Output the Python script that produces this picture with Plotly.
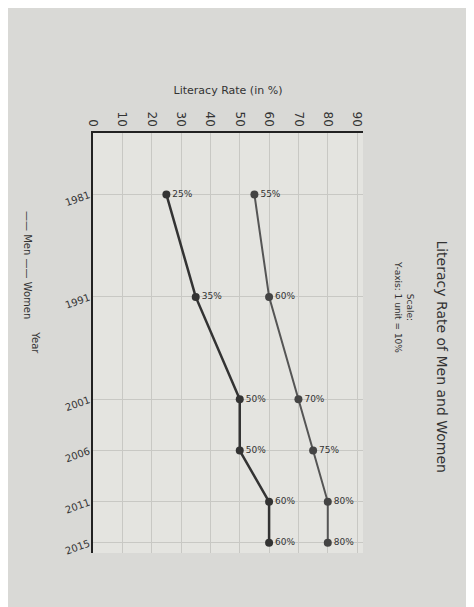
import plotly.graph_objects as go

years = [1981, 1991, 2001, 2006, 2011, 2015]
men = [55, 60, 70, 75, 80, 80]
women = [25, 35, 50, 50, 60, 60]
x_ticks = [0, 10, 20, 30, 40, 50, 60, 70, 80, 90]

fig = go.Figure()
fig.add_trace(go.Scatter(x=men, y=years, mode="lines+markers+text", name="Men",
    line=dict(color="#555", width=2), marker=dict(size=8, color="#444"),
    text=[f"{v}%" for v in men], textposition="middle right",
    textfont=dict(size=9, color="#333")))
fig.add_trace(go.Scatter(x=women, y=years, mode="lines+markers+text", name="Women",
    line=dict(color="#333", width=2.5), marker=dict(size=8, color="#333"),
    text=[f"{v}%" for v in women], textposition="middle right",
    textfont=dict(size=9, color="#333")))

fig.update_layout(
    width=474, height=607, paper_bgcolor="#d9d9d6", plot_bgcolor="#e4e4e0",
    margin=dict(l=85, r=119, t=125, b=62), showlegend=False,
    font=dict(family="DejaVu Sans", color="#333"),
    xaxis=dict(side="top", range=[0, 92], tickvals=x_ticks, tickangle=90,
               showline=True, linecolor="#222", linewidth=2,
               gridcolor="#c8c8c4", zeroline=False,
               title=dict(text="Literacy Rate (in %)", font=dict(size=11))),
    yaxis=dict(range=[2016, 1975], tickvals=years, showline=True,
               linecolor="#222", linewidth=2, gridcolor="#c8c8c4",
               tickangle=-20, tickfont=dict(size=10)),
)
fig.add_annotation(xref="paper", yref="paper", x=1.33, y=0.75, showarrow=False,
    text="Literacy Rate of Men and Women", textangle=90, font=dict(size=14))
fig.add_annotation(xref="paper", yref="paper", x=1.2, y=0.7, showarrow=False,
    text="Scale:<br>Y-axis: 1 unit = 10%", textangle=90, font=dict(size=9))
fig.add_annotation(xref="paper", yref="paper", x=-0.27, y=0.82, showarrow=False,
    text="—— Men —— Women", textangle=90, font=dict(size=10))
fig.add_annotation(xref="paper", yref="paper", x=-0.24, y=0.5, showarrow=False,
    text="Year", textangle=90, font=dict(size=10))
fig.write_html("out.html")
